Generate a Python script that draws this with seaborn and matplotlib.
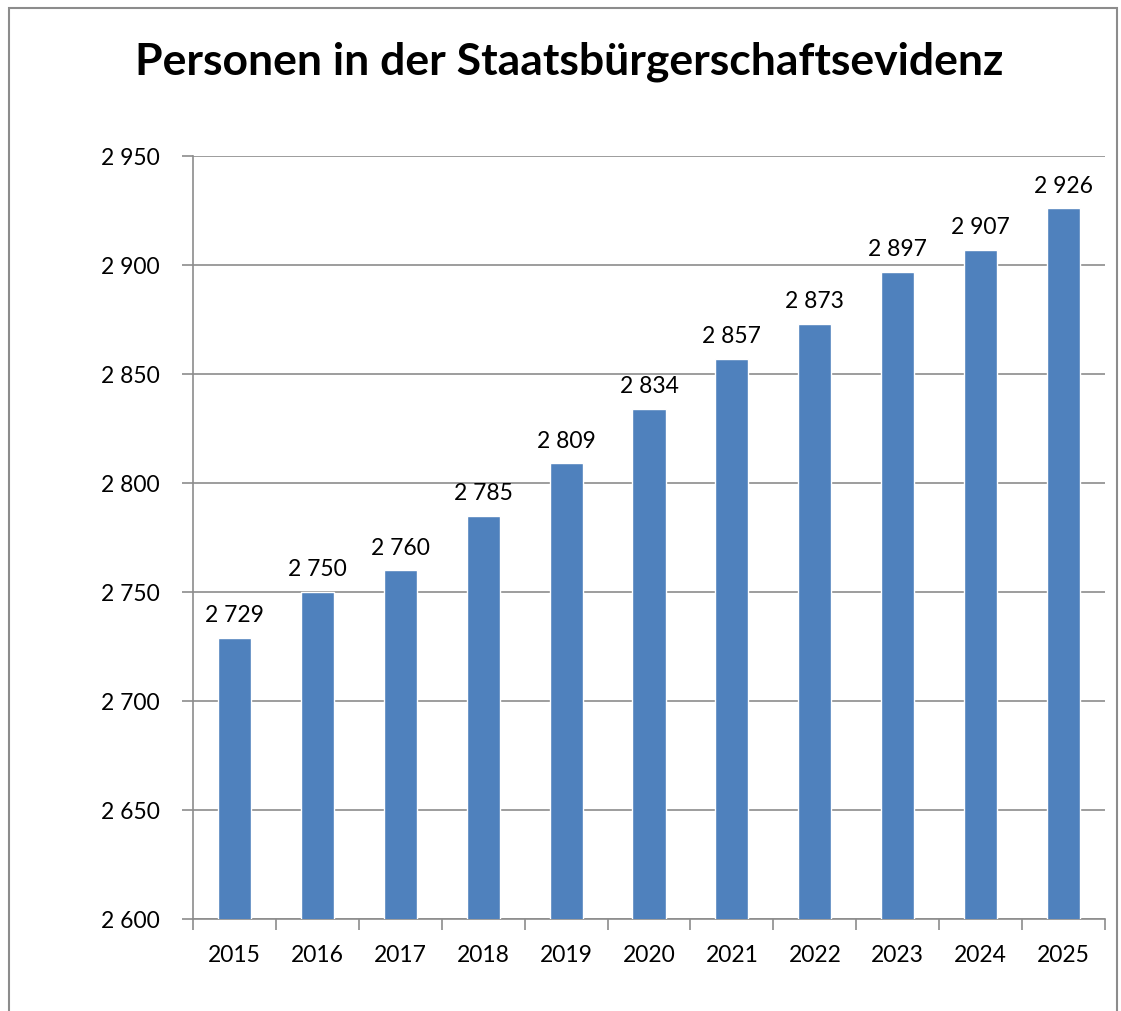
import matplotlib
matplotlib.use("Agg")
import matplotlib.pyplot as plt
import seaborn as sns
import pandas as pd
from matplotlib.patches import Rectangle
from matplotlib.ticker import FuncFormatter

years = ["2015", "2016", "2017", "2018", "2019", "2020", "2021", "2022", "2023", "2024", "2025"]
values = [2729, 2750, 2760, 2785, 2809, 2834, 2857, 2873, 2897, 2907, 2926]
title = "Personen in der Staatsbürgerschaftsevidenz"

sns.set_theme(style="white")
plt.rcParams['font.family'] = ['Lato', 'DejaVu Sans']
plt.rcParams['text.color'] = 'black'

df = pd.DataFrame({"year": years, "value": values})

fig = plt.figure(figsize=(11.21, 10.12), dpi=100)
ax = fig.add_axes([193/1121, 1-920/1012, (1105-193)/1121, (920-157)/1012])

sns.barplot(data=df, x="year", y="value", color="#4F81BD", saturation=1, width=0.4, ax=ax, zorder=3)

ax.set_ylim(2600, 2950)
ax.set_yticks(range(2600, 2951, 50))
fmt = lambda v, p: f"{int(v):,}".replace(",", " ")
ax.yaxis.set_major_formatter(FuncFormatter(fmt))
ax.set_xlim(-0.5, len(years) - 0.5)
ax.set_xlabel("")
ax.set_ylabel("")
ax.grid(axis="y", color="#8c8c8c", linewidth=1.2, zorder=0)
ax.set_axisbelow(True)

for s in ["top", "right"]:
    ax.spines[s].set_visible(False)
for s in ["left", "bottom"]:
    ax.spines[s].set_color("#8c8c8c")
    ax.spines[s].set_linewidth(1.2)

ax.tick_params(axis="y", which="major", left=True, length=8, width=1.2, color="#8c8c8c",
               labelsize=16.5, pad=16, labelcolor="black")
ax.tick_params(axis="x", which="major", bottom=False, labelsize=16.5, pad=12, labelcolor="black")
ax.set_xticks([i - 0.5 for i in range(len(years) + 1)], minor=True)
ax.tick_params(axis="x", which="minor", bottom=True, length=8, width=1.2, color="#8c8c8c")

for i, v in enumerate(values):
    ax.annotate(f"{v:,}".replace(",", " "), (i, v), xytext=(0, 9), textcoords="offset points",
                ha="center", va="bottom", fontsize=16.5, color="black")

fig.text(569/1121, 1-62/1012, title, ha="center", va="center", fontsize=32, fontweight="bold",
         color="black")

fig.patches.append(Rectangle((9/1121, -0.05), (1117-9)/1121, 1-9/1012+0.05, transform=fig.transFigure,
                             fill=False, edgecolor="#8c8c8c", linewidth=1.5))

fig.savefig("out.png", dpi=100)
